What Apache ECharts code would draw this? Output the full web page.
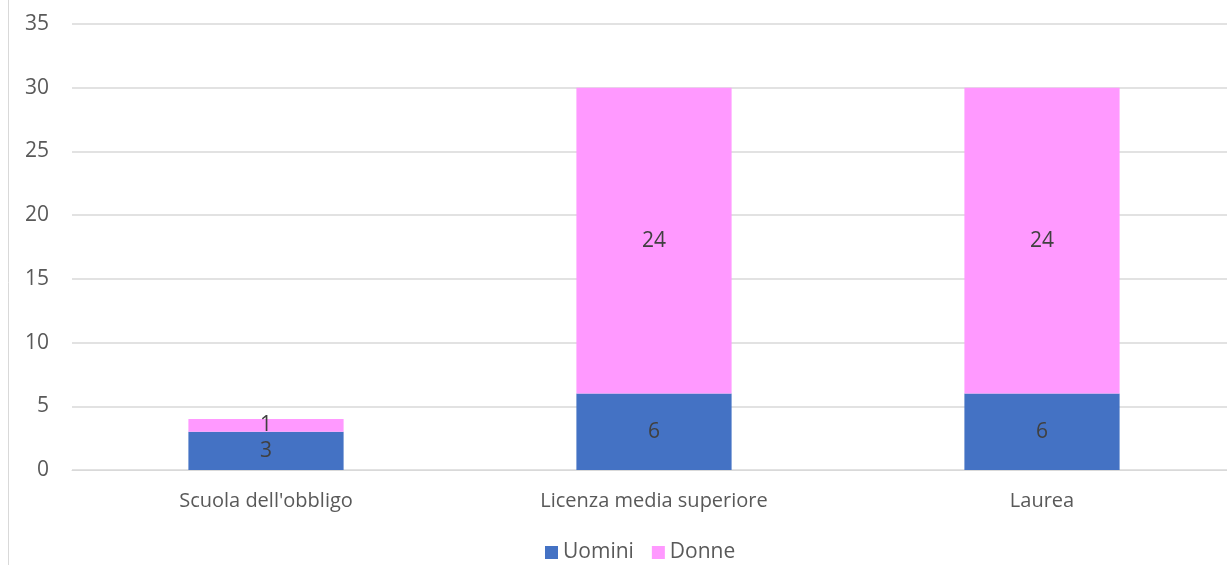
<!DOCTYPE html>
<html>
<head>
<meta charset="utf-8">
<style>
  html, body { margin: 0; padding: 0; background: #ffffff; overflow: hidden; }
  #chart { width: 1236px; height: 565px; }
</style>
<script src="https://cdn.jsdelivr.net/npm/echarts@6/dist/echarts.min.js"></script>
</head>
<body>
<div id="chart"></div>
<script>
// Titolo di studio per genere
const categories = ["Scuola dell'obbligo", "Licenza media superiore", "Laurea"];
const uomini = [3, 6, 6];
const donne = [1, 24, 24];
const seriesNames = ["Uomini", "Donne"];

const FONT = '"Open Sans", "Liberation Sans", sans-serif';
const TEXT = '#595959';

const chart = echarts.init(document.getElementById('chart'), null, { renderer: 'canvas' });

const labelStyle = {
  show: true,
  position: 'inside',
  color: '#404040',
  fontSize: 21,
  fontFamily: FONT
};

chart.setOption({
  animation: false,
  backgroundColor: '#ffffff',
  graphic: [{
    type: 'line',
    shape: { x1: 8.5, y1: 0, x2: 8.5, y2: 565 },
    style: { stroke: '#d9d9d9', lineWidth: 1 }
  }],
  grid: { left: 72, right: 0, top: 24, bottom: 95, containLabel: false },
  legend: {
    data: seriesNames,
    top: 542,
    left: 545,
    padding: 0,
    itemWidth: 13,
    itemHeight: 13,
    itemGap: 18,
    icon: 'rect',
    textStyle: { color: TEXT, fontSize: 21, fontFamily: FONT }
  },
  xAxis: {
    type: 'category',
    data: categories,
    axisLine: { show: true, lineStyle: { color: '#d9d9d9' } },
    axisTick: { show: false },
    axisLabel: { color: TEXT, fontSize: 20, fontFamily: FONT, margin: 21 }
  },
  yAxis: {
    type: 'value',
    min: 0,
    max: 35,
    interval: 5,
    axisLine: { show: false },
    axisTick: { show: false },
    splitLine: { lineStyle: { color: '#d9d9d9', width: 1.5 } },
    axisLabel: { color: TEXT, fontSize: 21, fontFamily: FONT, margin: 23 }
  },
  series: [
    {
      name: seriesNames[0],
      type: 'bar',
      stack: 'tot',
      data: uomini,
      barWidth: '40%',
      itemStyle: { color: '#4472C4' },
      label: labelStyle
    },
    {
      name: seriesNames[1],
      type: 'bar',
      stack: 'tot',
      data: donne,
      barWidth: '40%',
      itemStyle: { color: '#FF99FF' },
      label: labelStyle
    }
  ]
});
</script>
</body>
</html>
